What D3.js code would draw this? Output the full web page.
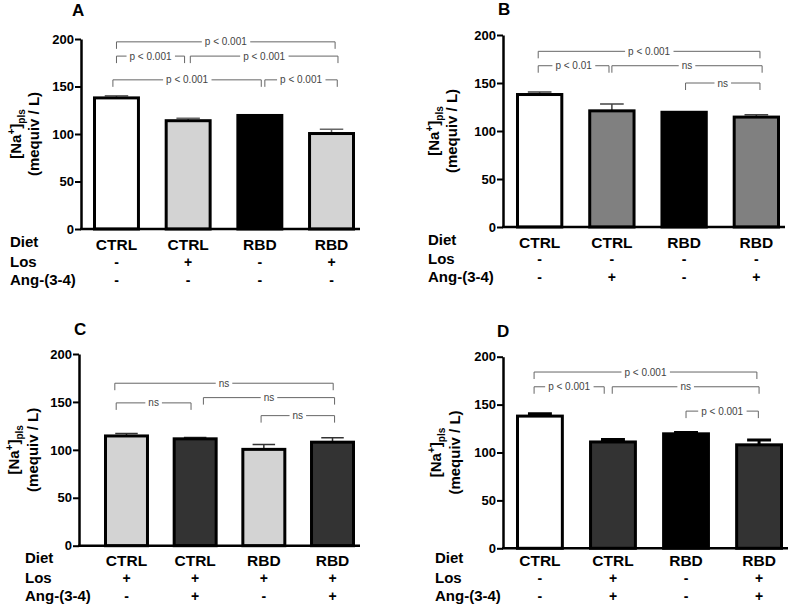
<!DOCTYPE html>
<html>
<head>
<meta charset="utf-8">
<script src="https://cdn.jsdelivr.net/npm/d3@7"></script>
<style>
  body { margin: 0; background: #fff; }
  svg { font-family: "Liberation Sans", Arial, sans-serif; }
</style>
</head>
<body>
<div id="graf"></div>
<script>
// ---- data ----
const diets = ["CTRL", "CTRL", "RBD", "RBD"]
const ticks = [0, 50, 100, 150, 200]

const losA = ["-", "+", "-", "+"]
const angA = ["-", "-", "-", "-"]
const meanA = [138, 114, 119.5, 100.5]
const semA = [2.3, 2.5, 0.8, 4.5]
// [from, to, value, label]  (from / to in bar units)
const sigA = [
  [0, 3.05, 197, "p < 0.001"],
  [0, 0.95, 182, "p < 0.001"],
  [1.03, 3.09, 182, "p < 0.001"],
  [-0.05, 2.02, 157, "p < 0.001"],
  [2.07, 3.08, 157, "p < 0.001"],
]

const losB = ["-", "-", "-", "-"]
const angB = ["-", "+", "-", "+"]
const meanB = [138, 121, 119.5, 114.5]
const semB = [2.5, 7, 0.5, 2.5]
const sigB = [
  [-0.02, 3.05, 183, "p < 0.001"],
  [-0.02, 0.96, 168, "p < 0.01"],
  [1.0, 3.08, 168, "ns"],
  [2.02, 3.05, 150, "ns"],
]

const losC = ["+", "+", "+", "+"]
const angC = ["-", "+", "-", "+"]
const meanC = [114.5, 111.5, 100.5, 108]
const semC = [2.5, 1.3, 5, 4.5]
const sigC = [
  [-0.17, 3.01, 169.5, "ns"],
  [-0.15, 0.94, 149, "ns"],
  [1.12, 3.03, 154.5, "ns"],
  [1.96, 3.03, 135.7, "ns"],
]

const losD = ["-", "+", "-", "+"]
const angD = ["-", "+", "-", "+"]
const meanD = [138, 111, 119.5, 108]
const semD = [2.5, 2.5, 1.3, 5]
const sigD = [
  [-0.08, 2.97, 184, "p < 0.001"],
  [-0.08, 0.88, 168.6, "p < 0.001"],
  [0.99, 3.0, 168.6, "ns"],
  [2.0, 2.99, 143.2, "p < 0.001"],
]

// ---- layout ----
const panels = [
  { letter: "A", lx: 72, ly: 16, axisX: 81, y0: 229, y1: 39, x0: 93, x1: 355,
    rowX: 10, dietY: 247, catY: 250, losY: 267, angY: 285, labX: [16, 34],
    fills: ["#fff", "#d3d3d3", "#000", "#d3d3d3"], errColor: "#666", errW: 1.5,
    los: losA, ang: angA, mean: meanA, sem: semA, sig: sigA },
  { letter: "B", lx: 498, ly: 15, axisX: 503, y0: 227, y1: 35, x0: 516, x1: 780,
    rowX: 428, dietY: 245, catY: 248, losY: 264, angY: 282, labX: [434, 452],
    fills: ["#fff", "#808080", "#000", "#808080"], errColor: "#444", errW: 1.5,
    los: losB, ang: angB, mean: meanB, sem: semB, sig: sigB },
  { letter: "C", lx: 74, ly: 335, axisX: 79, y0: 545.7, y1: 354, x0: 104, x1: 355,
    rowX: 25, dietY: 563, catY: 566, losY: 583, angY: 601, labX: [14, 33],
    fills: ["#d3d3d3", "#333", "#d3d3d3", "#333"], errColor: "#333", errW: 1.5,
    los: losC, ang: angC, mean: meanC, sem: semC, sig: sigC },
  { letter: "D", lx: 497, ly: 337, axisX: 503, y0: 548.3, y1: 356.7, x0: 516, x1: 783,
    rowX: 435, dietY: 563, catY: 566, losY: 583, angY: 601, labX: [436, 455],
    fills: ["#fff", "#333", "#000", "#333"], errColor: "#000", errW: 3,
    los: losD, ang: angD, mean: meanD, sem: semD, sig: sigD },
]

const svg = d3.select("#graf")
  .append("svg")
  .attr("width", 800)
  .attr("height", 606)

panels.forEach((p) => {
  const g = svg.append("g")

  const y = d3.scaleLinear().domain([0, 200]).range([p.y0, p.y1])
  const x = d3.scaleBand()
    .domain(d3.range(4))
    .range([p.x0, p.x1])
    .paddingInner(0.345)
    .paddingOuter(0)
  const bw = x.bandwidth()
  const cx = (i) => x(0) + bw / 2 + i * x.step()

  // panel letter
  g.append("text")
    .attr("x", p.lx).attr("y", p.ly)
    .attr("font-size", 17).attr("font-weight", "bold")
    .text(p.letter)

  // bars
  const data = p.mean.map((m, i) => ({ i, m, s: p.sem[i] }))

  g.selectAll(".err")
    .data(data)
    .enter()
    .append("path")
    .attr("d", (d) => {
      const c = cx(d.i)
      return `M${c},${y(d.m)}V${y(d.m + d.s)}M${c - bw / 4},${y(d.m + d.s)}H${c + bw / 4}`
    })
    .attr("fill", "none")
    .attr("stroke", p.errColor)
    .attr("stroke-width", p.errW)

  g.selectAll(".bar")
    .data(data)
    .enter()
    .append("rect")
    .attr("x", (d) => x(d.i) + 1.5)
    .attr("y", (d) => y(d.m))
    .attr("width", bw - 3)
    .attr("height", (d) => y(0) - y(d.m))
    .attr("fill", (d) => p.fills[d.i])
    .attr("stroke", "#000")
    .attr("stroke-width", 3)

  // axes
  const ax = g.append("g")
    .attr("transform", `translate(${p.axisX},0)`)
    .call(d3.axisLeft(y).tickValues(ticks).tickSize(6).tickSizeOuter(0))
  ax.select(".domain").attr("stroke-width", 2.5)
  ax.selectAll(".tick line").attr("stroke-width", 2)
  ax.selectAll(".tick text")
    .attr("font-size", 13).attr("font-weight", "bold")
    .attr("font-family", "Liberation Sans, Arial, sans-serif")
    .attr("fill", "#000").attr("x", -7)

  g.append("line")
    .attr("x1", p.axisX - 1).attr("x2", p.x1 + 5)
    .attr("y1", y(0)).attr("y2", y(0))
    .attr("stroke", "#000").attr("stroke-width", 2.5)

  // y label
  const cy = (p.y0 + p.y1) / 2
  const l1 = g.append("text")
    .attr("transform", `translate(${p.labX[0]},${cy}) rotate(-90)`)
    .attr("text-anchor", "middle").attr("dy", "0.35em")
    .attr("font-size", 15).attr("font-weight", "bold")
  l1.append("tspan").text("[Na")
  l1.append("tspan").attr("font-size", 10).attr("dy", -6).text("+")
  l1.append("tspan").attr("dy", 6).text("]")
  l1.append("tspan").attr("font-size", 10).attr("dy", 4).text("pls")
  g.append("text")
    .attr("transform", `translate(${p.labX[1]},${cy}) rotate(-90)`)
    .attr("text-anchor", "middle").attr("dy", "0.35em")
    .attr("font-size", 15).attr("font-weight", "bold")
    .text("(mequiv / L)")

  // row labels
  const rows = [["Diet", p.dietY], ["Los", p.losY], ["Ang-(3-4)", p.angY]]
  g.selectAll(".rowlab")
    .data(rows)
    .enter()
    .append("text")
    .attr("x", p.rowX).attr("y", (d) => d[1])
    .attr("font-size", 15).attr("font-weight", "bold")
    .text((d) => d[0])

  const cell = (arr, yy, size) => g.selectAll(null)
    .data(arr)
    .enter()
    .append("text")
    .attr("x", (d, i) => cx(i)).attr("y", yy)
    .attr("text-anchor", "middle")
    .attr("font-size", size).attr("font-weight", "bold")
    .text((d) => d)
  cell(diets, p.catY, 15.5)
  cell(p.los, p.losY, 14)
  cell(p.ang, p.angY, 14)

  // significance brackets
  p.sig.forEach(([a, b, v, lab]) => {
    const xa = cx(a), xb = cx(b), yy = y(v)
    g.append("path")
      .attr("d", `M${xa},${yy + 7}V${yy}H${xb}V${yy + 7}`)
      .attr("fill", "none").attr("stroke", "#666").attr("stroke-width", 1)
    const t = g.append("text")
      .attr("x", (xa + xb) / 2).attr("y", yy)
      .attr("dy", "0.35em").attr("text-anchor", "middle")
      .attr("font-size", 10).attr("fill", "#444")
      .text(lab)
    const bb = t.node().getBBox()
    g.insert("rect", () => t.node())
      .attr("x", bb.x - 3).attr("y", yy - 2)
      .attr("width", bb.width + 6).attr("height", 4)
      .attr("fill", "#fff")
  })
})
</script>
</body>
</html>
